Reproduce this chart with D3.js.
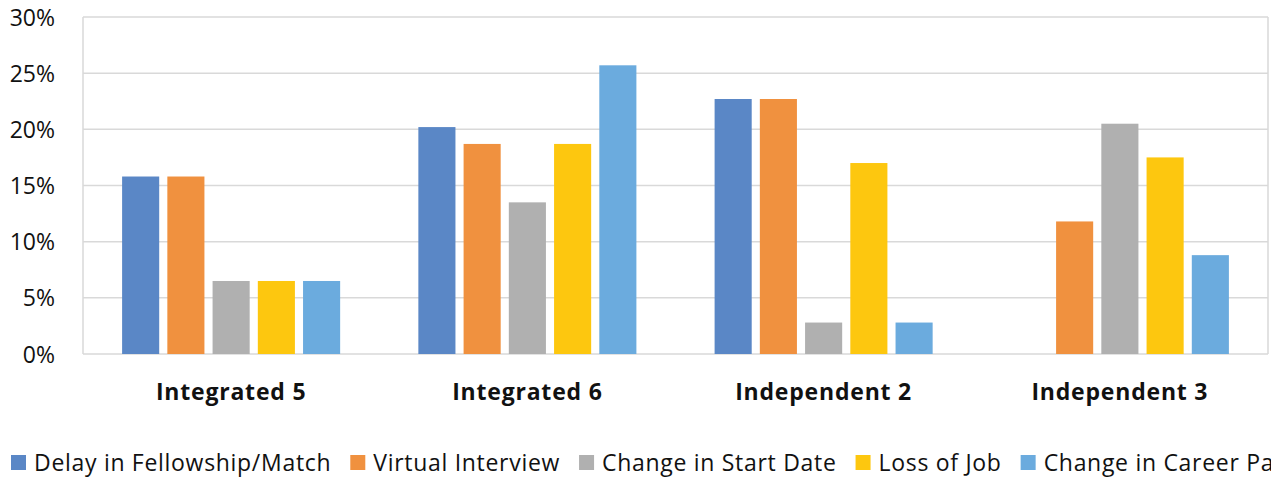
<!DOCTYPE html>
<html><head><meta charset="utf-8">
<script src="https://cdn.jsdelivr.net/npm/d3@7"></script>
<style>body{margin:0;background:#fff;overflow:hidden}svg{display:block}text{font-family:"Open Sans",sans-serif;fill:#111}</style>
</head><body><svg id="c" width="1271" height="480"></svg>
<script>
const categories = ["Integrated 5", "Integrated 6", "Independent 2", "Independent 3"];
const seriesNames = ["Delay in Fellowship/Match", "Virtual Interview", "Change in Start Date", "Loss of Job", "Change in Career Path"];
const delayFellowship = [15.8, 20.2, 22.7, 0];
const virtualInterview = [15.8, 18.7, 22.7, 11.8];
const changeStartDate = [6.5, 13.5, 2.8, 20.5];
const lossOfJob = [6.5, 18.7, 17.0, 17.5];
const changeCareerPath = [6.5, 25.7, 2.8, 8.8];
const yTicks = [0, 5, 10, 15, 20, 25, 30];
const colors = ["#5A87C6", "#F0913F", "#B0B0B0", "#FDC70F", "#6BABDE"];

const seriesValues = [delayFellowship, virtualInterview, changeStartDate, lossOfJob, changeCareerPath];

const svg = d3.select("#c");
const L = 83, R = 1268, T = 17, B = 354;

const x0 = d3.scaleBand().domain(categories).range([L, R]).paddingInner(0.264).paddingOuter(0.132);
const x1 = d3.scaleBand().domain(seriesNames).range([0, x0.bandwidth()]).paddingInner(0.18);
const y = d3.scaleLinear().domain([0, 30]).range([B, T]);

// gridlines
svg.append("g").selectAll("line").data(yTicks).join("line")
  .attr("x1", L).attr("x2", R).attr("y1", d => y(d)).attr("y2", d => y(d))
  .attr("stroke", "#D9D9D9").attr("stroke-width", 1.5);
// side borders
svg.append("line").attr("x1", L).attr("x2", L).attr("y1", T).attr("y2", B).attr("stroke", "#D9D9D9").attr("stroke-width", 1.5);
svg.append("line").attr("x1", R).attr("x2", R).attr("y1", T).attr("y2", B).attr("stroke", "#D9D9D9").attr("stroke-width", 1.5);

// y axis labels
const yAxis = d3.axisLeft(y).tickValues(yTicks).tickFormat(d => d + "%").tickSize(0).tickPadding(0);
const ya = svg.append("g").attr("transform", `translate(55,0)`).call(yAxis);
ya.select(".domain").remove();
ya.selectAll("text").attr("font-size", 23).attr("font-family", "Open Sans").attr("fill", "#111").attr("dy", "0.35em");

// bars
const groups = svg.append("g").selectAll("g").data(categories).join("g")
  .attr("transform", d => `translate(${x0(d)},0)`);
groups.selectAll("rect").data((c, ci) => seriesNames.map((s, si) => ({s, si, v: seriesValues[si][ci]})))
  .join("rect")
  .attr("x", d => x1(d.s)).attr("width", x1.bandwidth())
  .attr("y", d => y(d.v)).attr("height", d => B - y(d.v))
  .attr("fill", d => colors[d.si]);

// category labels
const xAxis = d3.axisBottom(x0).tickSize(0).tickPadding(0);
const xa = svg.append("g").attr("transform", `translate(0,392)`).call(xAxis);
xa.select(".domain").remove();
xa.selectAll("text").attr("font-size", 23).attr("font-weight", "bold").attr("letter-spacing", 0.8)
  .attr("font-family", "Open Sans").attr("fill", "#111").attr("dy", "0.35em");

// legend
const lg = svg.append("g");
let lx = 11;
seriesNames.forEach((s, i) => {
  lg.append("rect").attr("x", lx).attr("y", 455).attr("width", 15).attr("height", 15).attr("fill", colors[i]);
  const t = lg.append("text").attr("x", lx + 23).attr("y", 463).attr("dy", "0.35em")
    .attr("font-size", 23).attr("letter-spacing", 0.7).text(s);
  lx += 23 + t.node().getComputedTextLength() + 19;
});
</script></body></html>
